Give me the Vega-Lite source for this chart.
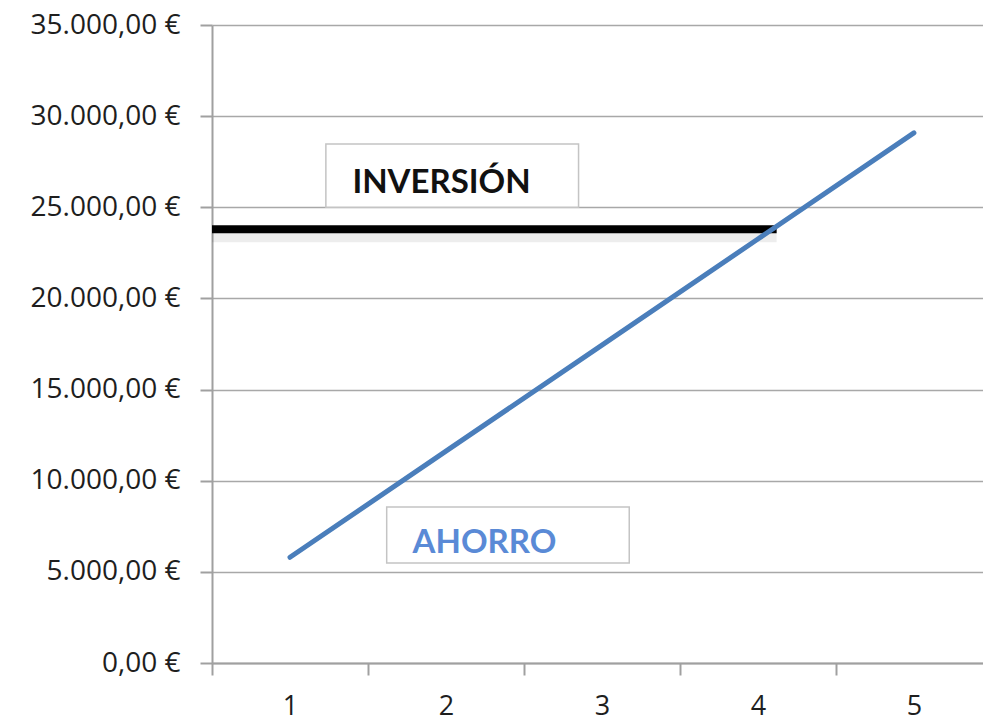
{
  "$schema": "https://vega.github.io/schema/vega-lite/v6.json",
  "width": 771,
  "height": 638,
  "autosize": {"type": "none"},
  "padding": {"left": 212, "top": 25, "right": 0, "bottom": 59},
  "background": "white",
  "datasets": {
    "ahorro": [
      {"periodo": 1, "valor": 5800},
      {"periodo": 2, "valor": 11620},
      {"periodo": 3, "valor": 17440},
      {"periodo": 4, "valor": 23260},
      {"periodo": 5, "valor": 29080}
    ],
    "inversion": [
      {"desde": 0.5, "hasta": 4.12, "valor": 23800}
    ],
    "cajas": [
      {"etiqueta": "INVERSIÓN", "x1": 1.23, "x2": 2.85, "y1": 25000, "y2": 28472, "tx": 1.40, "ty": 25784, "color": "#111111"},
      {"etiqueta": "AHORRO", "x1": 1.62, "x2": 3.175, "y1": 5486, "y2": 8558, "tx": 1.786, "ty": 6034, "color": "#5a8ad6"}
    ]
  },
  "config": {
    "locale": {"number": {"decimal": ",", "thousands": ".", "grouping": [3], "currency": ["", " €"]}},
    "view": {"stroke": null},
    "font": "Open Sans"
  },
  "resolve": {"axis": {"x": "independent"}},
  "layer": [
    {
      "data": {"name": "cajas"},
      "mark": {"type": "rect", "fill": "white", "stroke": "#c4c4c4", "strokeWidth": 1.5},
      "encoding": {
        "x": {"field": "x1", "type": "quantitative", "scale": {"domain": [0.5, 5.443], "nice": false, "zero": false}, "axis": null},
        "x2": {"field": "x2"},
        "y": {"field": "y1", "type": "quantitative", "scale": {"domain": [0, 35000], "nice": false},
          "axis": {
            "values": [0, 5000, 10000, 15000, 20000, 25000, 30000, 35000],
            "format": "$,.2f",
            "title": null,
            "grid": true,
            "gridColor": "#a8a8a8",
            "gridWidth": 1.5,
            "domainColor": "#a0a0a0",
            "domainWidth": 2,
            "tickColor": "#a0a0a0",
            "tickWidth": 2,
            "tickSize": 12,
            "labelPadding": 20,
            "labelFont": "Open Sans",
            "labelFontSize": 28,
            "labelColor": "#1e1e1e"
          }},
        "y2": {"field": "y2"}
      }
    },
    {
      "data": {"name": "cajas"},
      "mark": {"type": "text", "align": "left", "baseline": "alphabetic", "fontWeight": "bold", "fontSize": 33, "font": "Lato"},
      "encoding": {
        "x": {"field": "tx", "type": "quantitative",
          "axis": {
            "orient": "bottom",
            "values": [1, 2, 3, 4, 5],
            "title": null,
            "ticks": false,
            "domain": false,
            "grid": false,
            "labelFont": "Open Sans",
            "labelFontSize": 27,
            "labelColor": "#1e1e1e",
            "labelPadding": 30
          }},
        "y": {"field": "ty", "type": "quantitative"},
        "text": {"field": "etiqueta"},
        "color": {"field": "color", "type": "nominal", "scale": null}
      }
    },
    {
      "data": {"name": "inversion"},
      "mark": {"type": "rule", "color": "#000000", "opacity": 0.07, "strokeWidth": 14, "yOffset": 6},
      "encoding": {
        "x": {"field": "desde", "type": "quantitative", "axis": null},
        "x2": {"field": "hasta"},
        "y": {"field": "valor", "type": "quantitative"}
      }
    },
    {
      "data": {"name": "inversion"},
      "mark": {"type": "rule", "color": "#000000", "strokeWidth": 8},
      "encoding": {
        "x": {"field": "desde", "type": "quantitative", "axis": null},
        "x2": {"field": "hasta"},
        "y": {"field": "valor", "type": "quantitative"}
      }
    },
    {
      "data": {"name": "ahorro"},
      "mark": {"type": "line", "color": "#4a7ebb", "strokeWidth": 5, "strokeCap": "round"},
      "encoding": {
        "x": {"field": "periodo", "type": "quantitative",
          "axis": {
            "orient": "bottom",
            "values": [0.5, 1.5, 2.5, 3.5, 4.5],
            "title": null,
            "labels": false,
            "grid": false,
            "domainColor": "#a0a0a0",
            "domainWidth": 2,
            "tickColor": "#a0a0a0",
            "tickWidth": 2,
            "tickSize": 12
          }},
        "y": {"field": "valor", "type": "quantitative"}
      }
    }
  ]
}
